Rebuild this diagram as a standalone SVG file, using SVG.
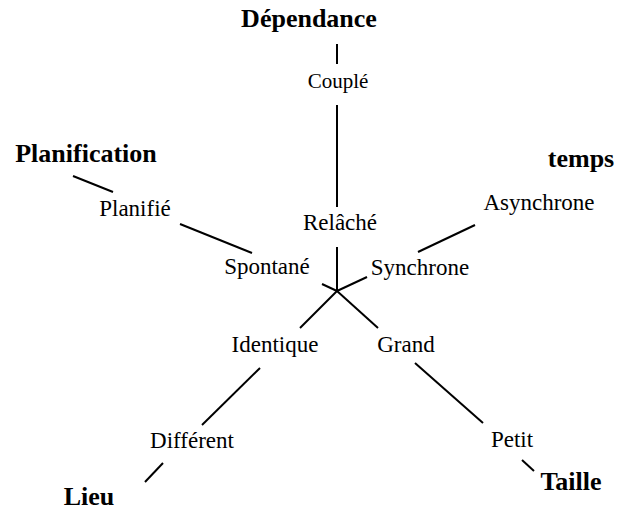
<svg xmlns="http://www.w3.org/2000/svg" width="626" height="510" viewBox="0 0 626 510">
<style>
text{font-family:"Liberation Serif","Times New Roman",serif;fill:#000;text-anchor:middle}
.axis{font-weight:bold;font-size:26px}
.val{font-size:23px}
.small{font-size:21px}
#connectors line{stroke:#000;stroke-width:2;stroke-linecap:butt}
</style>
<rect width="626" height="510" fill="#fff"/>
<g id="connectors">
<line x1="337" y1="44" x2="337" y2="64"/>
<line x1="337" y1="105" x2="337" y2="207"/>
<line x1="337" y1="247" x2="337" y2="291"/>
<line x1="73" y1="176" x2="113" y2="192"/>
<line x1="180" y1="224" x2="252" y2="253"/>
<line x1="322" y1="284" x2="337" y2="291"/>
<line x1="475" y1="225" x2="418" y2="252"/>
<line x1="367" y1="277" x2="337" y2="291"/>
<line x1="337" y1="291" x2="300" y2="328"/>
<line x1="337" y1="291" x2="378" y2="328"/>
<line x1="260" y1="368" x2="202" y2="425"/>
<line x1="163" y1="463" x2="145" y2="482"/>
<line x1="415" y1="363" x2="483" y2="423"/>
<line x1="522" y1="460" x2="534" y2="471"/>
</g>
<g id="dependance"><text class="axis" x="309" y="27">Dépendance</text></g>
<g id="couple"><text class="small" x="338" y="88">Couplé</text></g>
<g id="relache"><text class="val" x="340" y="230">Relâché</text></g>
<g id="planification"><text class="axis" x="86" y="162">Planification</text></g>
<g id="planifie"><text class="val" x="135" y="216">Planifié</text></g>
<g id="spontane"><text class="val" x="267" y="274">Spontané</text></g>
<g id="temps"><text class="axis" x="581" y="167">temps</text></g>
<g id="asynchrone"><text class="val" x="539" y="210">Asynchrone</text></g>
<g id="synchrone"><text class="val" x="420" y="275">Synchrone</text></g>
<g id="identique"><text class="val" x="275" y="352">Identique</text></g>
<g id="grand"><text class="val" x="406" y="352">Grand</text></g>
<g id="different"><text class="val" x="192" y="448">Différent</text></g>
<g id="lieu"><text class="axis" x="89" y="505">Lieu</text></g>
<g id="petit"><text class="val" x="512" y="447">Petit</text></g>
<g id="taille"><text class="axis" x="571" y="490">Taille</text></g>
</svg>
